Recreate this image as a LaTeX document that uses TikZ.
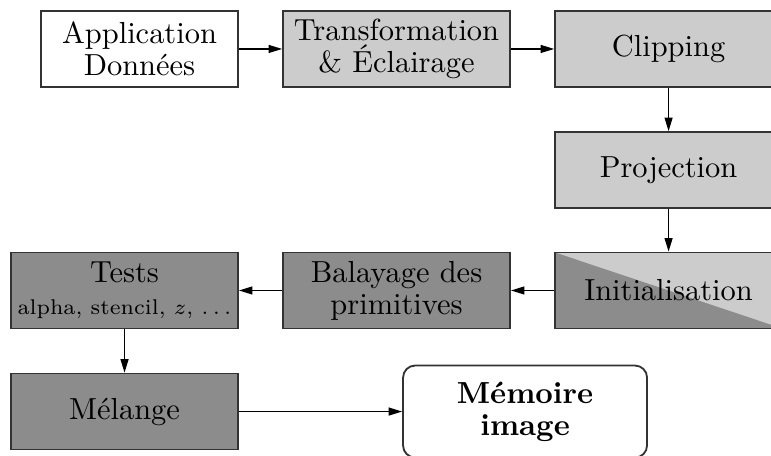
\documentclass[tikz,border=0pt]{standalone}
\usepackage{tikz}
\usetikzlibrary{arrows, arrows.meta}

\definecolor{grisclair}{gray}{0.8}
\definecolor{grisfonce}{gray}{0.55}
\definecolor{bord}{gray}{0.2}

\tikzset{
    etape/.style={draw=bord, line width=0.6pt, minimum width=2.62cm, minimum height=0.877cm,
        inner sep=1pt, align=center, font=\fontsize{10pt}{10.5pt}\selectfont},
    etapeclaire/.style={etape, fill=grisclair},
    etapefoncee/.style={etape, fill=grisfonce},
    etapemixte/.style={etape, fill=grisclair,
        path picture={\fill[grisfonce] (path picture bounding box.north west)
            -- (path picture bounding box.south west)
            -- (path picture bounding box.south east) -- cycle;}},
    memoire/.style={etape, rounded corners=0.14cm, minimum width=2.816cm,
        minimum height=1.062cm, font=\fontsize{10pt}{10.5pt}\selectfont\bfseries},
    fleche/.style={-{Triangle[length=4.4pt, width=2.6pt]}}
}

\begin{document}
\begin{tikzpicture}
    \useasboundingbox (0,0) rectangle (8.897,-5.262);

    \node[etape, minimum width=2.273cm] (application) at (1.610,-0.565) {Application\\Données};
    \node[etapeclaire] (transformation) at (4.576,-0.565) {Transformation\\\& Éclairage};
    \node[etapeclaire] (clipping) at (7.715,-0.565) {Clipping};
    \node[etapeclaire] (projection) at (7.715,-1.962) {Projection};
    \node[etapemixte] (initialisation) at (7.715,-3.352) {Initialisation};
    \node[etapefoncee] (balayage) at (4.576,-3.352) {Balayage des\\primitives};
    \node[etapefoncee] (tests) at (1.437,-3.352) {Tests\\{\scriptsize alpha, stencil, $z$, $\ldots$}};
    \node[etapefoncee] (melange) at (1.437,-4.749) {Mélange};
    \node[memoire] (memoireimage) at (6.059,-4.749) {Mémoire\\image};

    \draw [fleche] (application) -- (transformation);
    \draw [fleche] (transformation) -- (clipping);
    \draw [fleche] (clipping) -- (projection);
    \draw [fleche] (projection) -- (initialisation);
    \draw [fleche] (initialisation) -- (balayage);
    \draw [fleche] (balayage) -- (tests);
    \draw [fleche] (tests) -- (melange);
    \draw [fleche] (melange) -- (memoireimage);

\end{tikzpicture}
\end{document}
